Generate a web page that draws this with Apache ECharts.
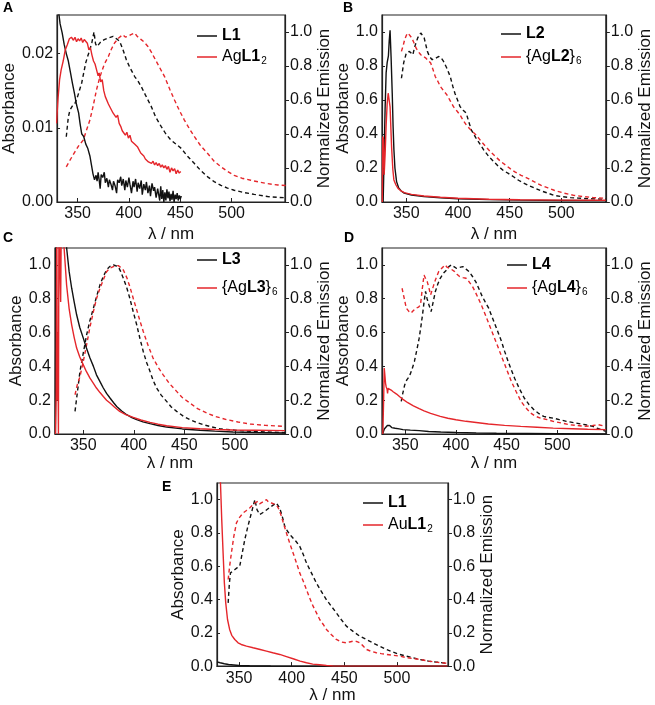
<!DOCTYPE html>
<html>
<head>
<meta charset="utf-8">
<script src="https://cdn.jsdelivr.net/npm/echarts@6/dist/echarts.min.js"></script>
<style>
html,body{margin:0;padding:0;background:#fff}
#chart{width:655px;height:705px}
</style>
</head>
<body>
<div id="chart"></div>
<script>
// wavelength ticks shared by every panel
const xTicks = [350, 400, 450, 500];
const absTicksA = [0, 0.01, 0.02];
const normTicks = [0, 0.2, 0.4, 0.6, 0.8, 1.0];

// ---- panel A : L1 / AgL1_2 ----
const absL1_A = [[331,0.0262],[333,0.0240],[335,0.0228],[337,0.0212],[339,0.0200],[341,0.0190],[343,0.0175],[345,0.0160],[347,0.0146],[349,0.0131],[351,0.0120],[352.5,0.0105],[354,0.0092],[356,0.0088],[358,0.0078],[360,0.0072],[362,0.0062],[363.5,0.0050],[365,0.0038],[366.5,0.0030],[368,0.0036],[369,0.0028],[370,0.0040],[371,0.0030],[372,0.0018],[373,0.0037],[374.5,0.0033],[376,0.0040],[377,0.0026],[378.5,0.0032],[380,0.0020],[381,0.0030],[382.5,0.0024],[384,0.0016],[385,0.0028],[386.5,0.0022],[388,0.0012],[389,0.0030],[390.5,0.0026],[392,0.0034],[393,0.0022],[394.5,0.0031],[396,0.0016],[397,0.0029],[398.5,0.0020],[400,0.0033],[401,0.0024],[402.5,0.0012],[404,0.0028],[405,0.0020],[406.5,0.0031],[408,0.0014],[409,0.0026],[410.5,0.0018],[412,0.0029],[413,0.0010],[414.5,0.0024],[416,0.0016],[417,0.0027],[418.5,0.0012],[420,0.0022],[421,0.0008],[422.5,0.0025],[424,0.0015],[425,0.0020],[426.5,0.0006],[428,0.0018],[429,0.0010],[430,0.0002],[431,0.0021],[432,0.0004],[433,0.0016],[434,0.0000],[435,0.0013],[436,0.0002],[437,0.0017],[438,0.0005],[439,0.0014],[440,0.0001],[441,0.0011],[442,0.0003],[443,0.0015],[444,0.0000],[445,0.0010],[446,0.0004],[447,0.0012],[448,0.0002],[449,0.0009],[450,0.0004],[451,0.0008]];
const absAgL1 = [[329.5,0.0106],[331,0.0140],[332.5,0.0165],[334,0.0178],[336,0.0190],[338,0.0205],[340,0.0212],[342,0.0220],[344,0.0222],[346,0.0218],[347.5,0.0222],[349,0.0216],[350.5,0.0220],[352,0.0217],[353.5,0.0221],[355,0.0215],[356.5,0.0219],[358,0.0217],[359.5,0.0214],[361,0.0205],[362.5,0.0208],[364,0.0198],[365.5,0.0190],[367,0.0186],[368.5,0.0178],[370,0.0170],[371,0.0174],[372.5,0.0162],[374,0.0165],[375.5,0.0150],[377,0.0142],[378.5,0.0140],[380,0.0132],[381.5,0.0128],[383,0.0126],[384.5,0.0120],[386,0.0122],[387.5,0.0114],[389,0.0117],[390.5,0.0106],[392,0.0102],[393.5,0.0096],[395,0.0098],[396.5,0.0090],[398,0.0094],[399.5,0.0086],[401,0.0090],[402.5,0.0082],[404,0.0084],[405.5,0.0078],[407,0.0080],[408.5,0.0074],[410,0.0072],[411.5,0.0066],[413,0.0068],[414.5,0.0062],[416,0.0058],[417.5,0.0060],[419,0.0054],[420.5,0.0056],[422,0.0052],[423.5,0.0055],[425,0.0050],[426.5,0.0053],[428,0.0049],[429.5,0.0052],[431,0.0047],[432.5,0.0050],[434,0.0046],[435.5,0.0049],[437,0.0044],[438.5,0.0048],[440,0.0040],[441.5,0.0046],[443,0.0042],[444.5,0.0045],[446,0.0038],[447.5,0.0043],[449,0.0039],[450.5,0.0041]];
const emL1_A = [[339,0.384],[341,0.50],[342.6,0.541],[345,0.565],[347.4,0.58],[350,0.62],[352,0.66],[354,0.70],[356,0.76],[358,0.82],[360,0.86],[362,0.896],[364,0.94],[366,1.0],[367.5,0.93],[369,0.915],[371,0.93],[373,0.945],[376,0.955],[380,0.965],[384.6,0.974],[388,0.96],[391,0.945],[394,0.90],[397.5,0.837],[401,0.79],[405.6,0.738],[409,0.71],[412,0.679],[416,0.63],[421.8,0.561],[426,0.50],[431.5,0.443],[436,0.40],[441,0.364],[446,0.34],[451,0.315],[457,0.27],[463.8,0.226],[470,0.185],[476.7,0.148],[483,0.12],[489.6,0.098],[496,0.082],[502.5,0.069],[512,0.056],[522,0.045],[535,0.032],[545,0.027],[553,0.025]];
const emAgL1 = [[339,0.207],[343,0.25],[347.4,0.295],[351,0.33],[355.5,0.364],[358,0.41],[362,0.482],[365,0.56],[368.4,0.659],[371,0.72],[373,0.758],[376,0.81],[380,0.856],[383,0.90],[386,0.935],[390,0.965],[394,0.984],[396.5,0.97],[399,0.974],[402,0.985],[405.6,0.994],[408,0.975],[412,0.955],[415,0.94],[418.5,0.915],[422,0.88],[425,0.846],[430,0.79],[434.7,0.738],[440,0.66],[444.4,0.60],[449,0.54],[454,0.482],[459,0.43],[463.8,0.384],[470,0.33],[476.7,0.285],[483,0.24],[489.6,0.207],[496,0.18],[502.5,0.157],[510,0.14],[518.7,0.128],[527,0.117],[535,0.108],[545,0.10],[553,0.097]];

// ---- panel B : L2 / {AgL2}6 ----
const absL2 = [[327.6,0.0],[328.5,0.25],[329.5,0.55],[330.5,0.76],[331.5,0.82],[332.7,0.86],[333.5,0.95],[334.3,1.01],[335.3,0.85],[336.4,0.64],[337.2,0.45],[338,0.31],[339,0.2],[340.6,0.12],[342.5,0.085],[345,0.065],[348,0.052],[355,0.041],[367,0.032],[383,0.025],[400,0.019],[430,0.014],[460,0.011],[500,0.009],[543,0.008]];
const absAgL2 = [[326.8,0.0],[327.2,0.386],[328,0.37],[328.6,0.16],[329.5,0.28],[330.5,0.45],[331.5,0.58],[332.5,0.64],[333.3,0.65],[334.3,0.56],[335.8,0.32],[337,0.19],[338,0.13],[340,0.1],[342,0.08],[345,0.065],[348,0.055],[355,0.045],[367,0.035],[383,0.028],[400,0.022],[430,0.016],[460,0.013],[500,0.011],[543,0.01]];
const emL2 = [[345.3,0.728],[347.5,0.82],[350,0.876],[353,0.886],[356.3,0.866],[358.5,0.92],[361,0.965],[364,0.994],[365.5,0.99],[367.3,0.965],[370.4,0.886],[372.5,0.855],[375,0.837],[378,0.845],[381.5,0.856],[384,0.845],[386,0.827],[389,0.79],[392.5,0.738],[395,0.68],[397,0.64],[402,0.561],[405,0.54],[408,0.522],[410.5,0.47],[413,0.423],[417,0.38],[420.8,0.345],[425,0.305],[430,0.266],[435,0.235],[439.6,0.207],[444,0.185],[449,0.167],[454,0.147],[458.5,0.128],[463,0.113],[468,0.098],[474,0.082],[480.5,0.065],[487,0.052],[493,0.039],[500,0.032],[508.8,0.026],[516,0.023],[524.5,0.02],[533,0.018],[543,0.016]];
const emAgL2 = [[345.3,0.886],[347,0.92],[348.4,0.955],[350,0.98],[351.6,0.994],[353.5,0.985],[355.3,0.965],[357.5,0.935],[359.4,0.906],[361.5,0.885],[364,0.866],[366.5,0.856],[369,0.846],[371.5,0.83],[373.6,0.817],[375.8,0.78],[378,0.738],[380.5,0.71],[383,0.679],[386,0.655],[389.3,0.63],[392.5,0.595],[395.6,0.561],[399,0.535],[402,0.512],[405,0.48],[408,0.453],[412.5,0.423],[417.6,0.394],[422,0.36],[427,0.325],[431.5,0.295],[436.5,0.266],[441,0.24],[446,0.217],[450.5,0.196],[455,0.177],[461,0.157],[468,0.138],[474,0.118],[480.5,0.098],[487,0.083],[493,0.069],[502,0.053],[512,0.039],[521,0.032],[531,0.026],[543,0.022]];

// ---- panel C : L3 / {AgL3}6 ----
const absL3 = [[322.3,0.0],[322.6,0.45],[322.9,0.67],[323.3,1.3],[333,1.3],[333.5,1.1],[336,0.96],[338.5,0.862],[341,0.78],[343.4,0.705],[346.5,0.63],[350,0.567],[353,0.51],[356.6,0.449],[360,0.4],[363,0.35],[366.5,0.31],[369.8,0.272],[373,0.24],[376.4,0.213],[380,0.185],[383,0.163],[388,0.136],[392.9,0.114],[398,0.097],[402.8,0.085],[409,0.072],[416,0.061],[424,0.05],[432.4,0.041],[448,0.03],[465.4,0.022],[480,0.017],[498,0.012],[520,0.009],[549.5,0.006]];
const absAgL3 = [[322.5,0.0],[323.2,0.25],[323.8,1.3],[324.3,0.2],[324.8,0.6],[325.4,0.0],[325.9,1.3],[326.8,1.3],[327.6,0.78],[328.3,1.3],[330,1.3],[331,1.1],[333.5,0.88],[336,0.74],[338.5,0.646],[341,0.57],[343.4,0.508],[346.5,0.455],[350,0.409],[353,0.37],[356.6,0.33],[360,0.3],[363,0.272],[366.5,0.245],[369.8,0.222],[373,0.2],[376.4,0.183],[381,0.158],[386,0.134],[392,0.115],[399.5,0.098],[407,0.083],[416,0.069],[424,0.058],[432.4,0.049],[448,0.038],[465.4,0.031],[480,0.027],[498,0.024],[520,0.022],[549.5,0.02]];
const emL3 = [[341.8,0.134],[344,0.24],[346.7,0.37],[350,0.48],[353.3,0.587],[356.5,0.67],[360,0.744],[363,0.81],[366.5,0.882],[370,0.935],[373,0.97],[376,0.99],[379.7,1.0],[382,0.995],[384.6,0.99],[387,0.96],[389.6,0.921],[393,0.865],[396,0.803],[399.5,0.72],[402.8,0.646],[406,0.565],[409.3,0.488],[412.5,0.425],[416,0.37],[419,0.318],[422.5,0.272],[427,0.23],[432.4,0.193],[437,0.16],[442.3,0.134],[449,0.105],[455.5,0.085],[462,0.068],[468.7,0.055],[477,0.042],[485,0.031],[495,0.025],[505,0.02],[518,0.015],[531,0.012],[549.5,0.008]];
const emAgL3 = [[341.8,0.232],[344,0.29],[346.7,0.34],[350,0.43],[353.3,0.528],[356.5,0.63],[360,0.724],[363,0.8],[366.5,0.862],[370,0.915],[373,0.96],[376,0.98],[379.7,0.99],[382,0.995],[384.6,0.996],[387,0.985],[389.6,0.97],[393,0.925],[396,0.872],[399.5,0.8],[402.8,0.734],[406,0.67],[409.3,0.606],[414,0.525],[419,0.449],[424,0.395],[429,0.35],[435,0.3],[442.3,0.252],[448,0.215],[455.5,0.183],[463,0.15],[472,0.124],[481,0.103],[491.8,0.085],[503,0.071],[515,0.059],[530,0.051],[549.5,0.045]];

// ---- panel D : L4 / {AgL4}6 ----
const absL4 = [[327.6,0.0],[328.5,0.0],[329.3,0.03],[331,0.035],[332.3,0.05],[333.3,0.055],[334.5,0.05],[336.6,0.038],[340,0.034],[344,0.03],[347.7,0.026],[355,0.023],[363.7,0.02],[373,0.015],[385,0.012],[400,0.009],[420,0.006],[440,0.004],[470,0.003],[500,0.002],[548,0.001]];
const absAgL4 = [[327.8,0.0],[328.6,0.2],[329.2,0.39],[329.8,0.35],[330.5,0.3],[331.1,0.28],[332,0.265],[332.5,0.24],[333,0.27],[333.6,0.28],[334.5,0.27],[336,0.26],[338,0.25],[341.4,0.236],[344.5,0.22],[347.7,0.205],[352.5,0.185],[358,0.167],[363.7,0.15],[368.5,0.137],[375,0.122],[384.5,0.104],[392,0.093],[400,0.084],[410,0.075],[420,0.068],[432,0.059],[448,0.051],[464,0.045],[480,0.04],[496,0.035],[515,0.031],[530,0.028],[548,0.026]];
const emL4 = [[346,0.193],[347.5,0.24],[349.4,0.29],[351.5,0.32],[354,0.34],[356.5,0.38],[359,0.429],[361.5,0.5],[363.7,0.567],[365.5,0.64],[367,0.705],[368.5,0.78],[370,0.843],[371.5,0.8],[373.3,0.764],[375.5,0.724],[377.5,0.78],[379.7,0.843],[382,0.885],[384.5,0.921],[387.5,0.95],[390.8,0.97],[393,0.99],[395.6,1.0],[398,0.99],[400.4,0.98],[403.5,0.985],[406.8,0.99],[410,0.975],[413,0.96],[416.5,0.93],[419.6,0.9],[423,0.855],[426,0.813],[429,0.78],[432.3,0.744],[435.5,0.695],[438.7,0.646],[442,0.595],[445,0.547],[448,0.49],[451.5,0.429],[454.7,0.378],[457.9,0.33],[462.5,0.27],[467.4,0.213],[472,0.175],[477,0.144],[482,0.12],[486.6,0.104],[491,0.098],[496,0.094],[502,0.085],[509,0.075],[518,0.065],[528,0.055],[535,0.045],[540.8,0.031],[547.8,0.016]];
const emAgL4 = [[346.8,0.862],[349,0.8],[351,0.744],[353.5,0.725],[355.7,0.715],[358,0.73],[360.5,0.744],[363,0.75],[365,0.764],[366.8,0.86],[368.5,0.94],[370,0.92],[371.7,0.9],[373.5,0.86],[375,0.823],[377.5,0.87],[379.7,0.911],[382.9,0.96],[386,0.98],[389.2,1.0],[391.5,0.985],[394,0.98],[396.5,0.97],[398.8,0.96],[401,0.945],[403.6,0.931],[407,0.925],[410,0.921],[413,0.9],[416.4,0.872],[419.5,0.835],[422.8,0.793],[426,0.75],[429,0.705],[432.3,0.655],[435.5,0.606],[438.7,0.557],[441.9,0.508],[445,0.46],[448.3,0.409],[451.5,0.36],[454.7,0.311],[459.5,0.25],[464.2,0.193],[469,0.155],[473.8,0.124],[478.5,0.105],[483.4,0.094],[490,0.085],[496,0.075],[504,0.065],[512,0.055],[520,0.05],[528,0.045],[535,0.05],[540.8,0.055],[547.8,0.045]];

// ---- panel E : L1 / AuL1_2 ----
const absL1_E = [[329,0.025],[332,0.02],[336,0.014],[340,0.01],[345,0.007],[350,0.004],[360,0.002],[380,0.001],[420,0.0],[548,0.0]];
const absAuL1 = [[329,1.4],[331,1.2],[332.3,1.1],[333.5,0.88],[334.8,0.68],[336,0.5],[337.3,0.38],[339,0.28],[341,0.22],[343,0.185],[345.9,0.16],[349,0.14],[352,0.13],[357,0.12],[363.3,0.11],[370,0.1],[376,0.09],[382,0.08],[388.6,0.07],[395,0.057],[401.3,0.044],[408,0.03],[414,0.02],[420,0.012],[426.6,0.008],[433,0.004],[439,0.001],[460,0.0],[500,0.0],[548,0.0]];
const emL1_E = [[339.6,0.38],[340.8,0.5],[341.8,0.56],[344,0.57],[346,0.58],[348,0.59],[350.6,0.60],[353,0.68],[355.4,0.76],[358,0.83],[360,0.88],[362.5,0.94],[365,1.0],[367,0.94],[369.6,0.91],[372,0.92],[374.4,0.93],[377.5,0.945],[380.7,0.96],[383,0.97],[385.4,0.98],[387,0.97],[388.6,0.95],[391,0.9],[393.4,0.84],[396,0.81],[399.7,0.78],[404,0.75],[407.6,0.72],[411,0.67],[414,0.62],[418.7,0.56],[423.4,0.5],[428,0.45],[432.9,0.4],[437.6,0.36],[442.4,0.32],[447,0.28],[451.9,0.24],[458,0.21],[464.6,0.18],[471,0.16],[477,0.14],[483.5,0.12],[490,0.1],[496,0.085],[502.5,0.07],[512,0.055],[521.5,0.04],[530,0.03],[537.4,0.024],[548.7,0.016]];
const emAuL1 = [[339.6,0.52],[341,0.6],[342.7,0.68],[345,0.78],[347.5,0.86],[350,0.89],[353.8,0.92],[357,0.935],[360,0.95],[362.5,0.965],[365,0.98],[368,0.99],[369.5,0.975],[371.2,0.98],[373.5,0.99],[376,1.0],[378,0.985],[380.7,0.98],[383,0.975],[385.4,0.97],[388,0.94],[390.2,0.9],[392.5,0.85],[395,0.8],[398,0.74],[401.3,0.68],[404.5,0.62],[407.6,0.56],[411,0.51],[414,0.46],[417,0.41],[420.3,0.36],[423.5,0.32],[426.6,0.28],[430,0.25],[433,0.22],[437.5,0.19],[442.4,0.16],[447,0.145],[451.9,0.14],[455,0.145],[458.2,0.15],[461.5,0.148],[464.6,0.14],[468,0.12],[471,0.1],[475,0.09],[480.4,0.08],[485,0.075],[490,0.07],[496,0.065],[502.5,0.06],[510,0.05],[521.5,0.04],[530,0.03],[537.4,0.024],[548.7,0.016]];

const FONT = 'Liberation Sans, Arial, sans-serif';
const RED = '#e5262b';
const BLACK = '#111';

// legend labels with bold ligand names and subscripts
const legendText = {
  'A:L1': '{b|L1}', 'A:AgL1': 'Ag{b|L1}{s|2}',
  'B:L2': '{b|L2}', 'B:AgL2': '{Ag{b|L2}}{s|6}',
  'C:L3': '{b|L3}', 'C:AgL3': '{Ag{b|L3}}{s|6}',
  'D:L4': '{b|L4}', 'D:AgL4': '{Ag{b|L4}}{s|6}',
  'E:L1': '{b|L1}', 'E:AuL1': 'Au{b|L1}{s|2}'
};

const panels = [
  {tag:'A', grid:{left:55, top:15, width:230, height:187}, xMin:330, xMax:552, absMax:0.0252, absTicks:absTicksA, absDigits:2,
   title:[3,1], legend:[197,28,5], xGap:24, absGap:36, emGap:27,
   names:['A:L1','A:AgL1'], data:[absL1_A, absAgL1, emL1_A, emAgL1]},
  {tag:'B', grid:{left:382, top:15, width:229, height:187}, xMin:326.5, xMax:543, absMax:1.1, absTicks:normTicks, absDigits:1,
   title:[343,1], legend:[501,26,7], xGap:24, absGap:27, emGap:26,
   names:['B:L2','B:AgL2'], data:[absL2, absAgL2, emL2, emAgL2]},
  {tag:'C', grid:{left:55, top:248, width:230, height:186}, xMin:322, xMax:549.5, absMax:1.1, absTicks:normTicks, absDigits:1,
   title:[3,231], legend:[197,252,12], xGap:16, absGap:27, emGap:29,
   names:['C:L3','C:AgL3'], data:[absL3, absAgL3, emL3, emAgL3]},
  {tag:'D', grid:{left:382, top:248, width:230, height:186}, xMin:327, xMax:548, absMax:1.1, absTicks:normTicks, absDigits:1,
   title:[344,231], legend:[507,257,7], xGap:16, absGap:27, emGap:25,
   names:['D:L4','D:AgL4'], data:[absL4, absAgL4, emL4, emAgL4]},
  {tag:'E', grid:{left:217, top:483, width:231, height:184}, xMin:329, xMax:548.5, absMax:1.1, absTicks:normTicks, absDigits:1,
   title:[162,480], legend:[363,495,6], xGap:18, absGap:28, emGap:23,
   names:['E:L1','E:AuL1'], data:[absL1_E, absAuL1, emL1_E, emAuL1]}
];

const axisLine = {show:true, lineStyle:{color:'#222', width:1.2}};
const tickStyle = {color:'#111', fontSize:16, fontFamily:FONT};
const nameStyle = {color:'#111', fontSize:17, fontFamily:FONT};

let option = {
  animation: false,
  backgroundColor: '#fff',
  title: [], legend: [], grid: [], xAxis: [], yAxis: [], series: []
};

panels.forEach((p, i) => {
  option.title.push({text:p.tag, left:p.title[0], top:p.title[1], padding:0,
    textStyle:{fontSize:14, fontWeight:'bold', color:'#000', fontFamily:FONT}});
  option.grid.push(Object.assign({show:true, borderColor:'#222', borderWidth:1.2, backgroundColor:'transparent'}, p.grid));

  option.xAxis.push({
    gridIndex:i, type:'value', min:p.xMin, max:p.xMax,
    name:'λ / nm', nameLocation:'middle', nameGap:p.xGap, nameTextStyle:nameStyle,
    axisLine:axisLine, splitLine:{show:false},
    axisTick:{inside:true, length:4, customValues:xTicks, lineStyle:{color:'#222'}},
    axisLabel:Object.assign({margin:4, customValues:xTicks}, tickStyle)
  });
  option.yAxis.push({
    gridIndex:i, type:'value', position:'left', min:0, max:p.absMax,
    name:'Absorbance', nameLocation:'middle', nameGap:p.absGap, nameRotate:90, nameTextStyle:nameStyle,
    axisLine:axisLine, splitLine:{show:false},
    axisTick:{inside:true, length:3, customValues:p.absTicks, lineStyle:{color:'#222'}},
    axisLabel:Object.assign({margin:4, customValues:p.absTicks,
      formatter:v => v.toFixed(p.absDigits)}, tickStyle)
  });
  option.yAxis.push({
    gridIndex:i, type:'value', position:'right', min:0, max:1.1,
    name:'Normalized Emission', nameLocation:'middle', nameGap:p.emGap, nameRotate:90, nameTextStyle:nameStyle,
    axisLine:axisLine, splitLine:{show:false},
    axisTick:{inside:false, length:4, customValues:normTicks, lineStyle:{color:'#222'}},
    axisLabel:Object.assign({margin:5, customValues:normTicks, formatter:v => v.toFixed(1)}, tickStyle)
  });

  const styles = [
    {name:p.names[0], color:BLACK, type:'solid', y:2*i},
    {name:p.names[1], color:RED, type:'solid', y:2*i},
    {name:p.tag + ':em0', color:BLACK, type:[4,3], y:2*i+1},
    {name:p.tag + ':em1', color:RED, type:[4,3], y:2*i+1}
  ];
  styles.forEach((s, k) => {
    option.series.push({
      type:'line', name:s.name, xAxisIndex:i, yAxisIndex:s.y,
      data:p.data[k], showSymbol:false, symbol:'none', clip:true, z:k < 2 ? 3 : 2,
      itemStyle:{color:s.color},
      lineStyle:{color:s.color, width:1.4, type:s.type}
    });
  });

  option.legend.push({
    data:p.names, orient:'vertical', left:p.legend[0], top:p.legend[1], itemGap:p.legend[2],
    padding:0, icon:'rect', itemWidth:20, itemHeight:1.5, selectedMode:false,
    formatter:name => legendText[name],
    textStyle:{fontSize:16, color:'#000', fontFamily:FONT,
      rich:{
        b:{fontSize:16, fontWeight:'bold', color:'#000', fontFamily:FONT},
        s:{fontSize:10, color:'#000', fontFamily:FONT, verticalAlign:'bottom', padding:[8,0,0,1]}
      }}
  });
});

const chart = echarts.init(document.getElementById('chart'), null, {renderer:'canvas'});
chart.setOption(option);
</script>
</body>
</html>
